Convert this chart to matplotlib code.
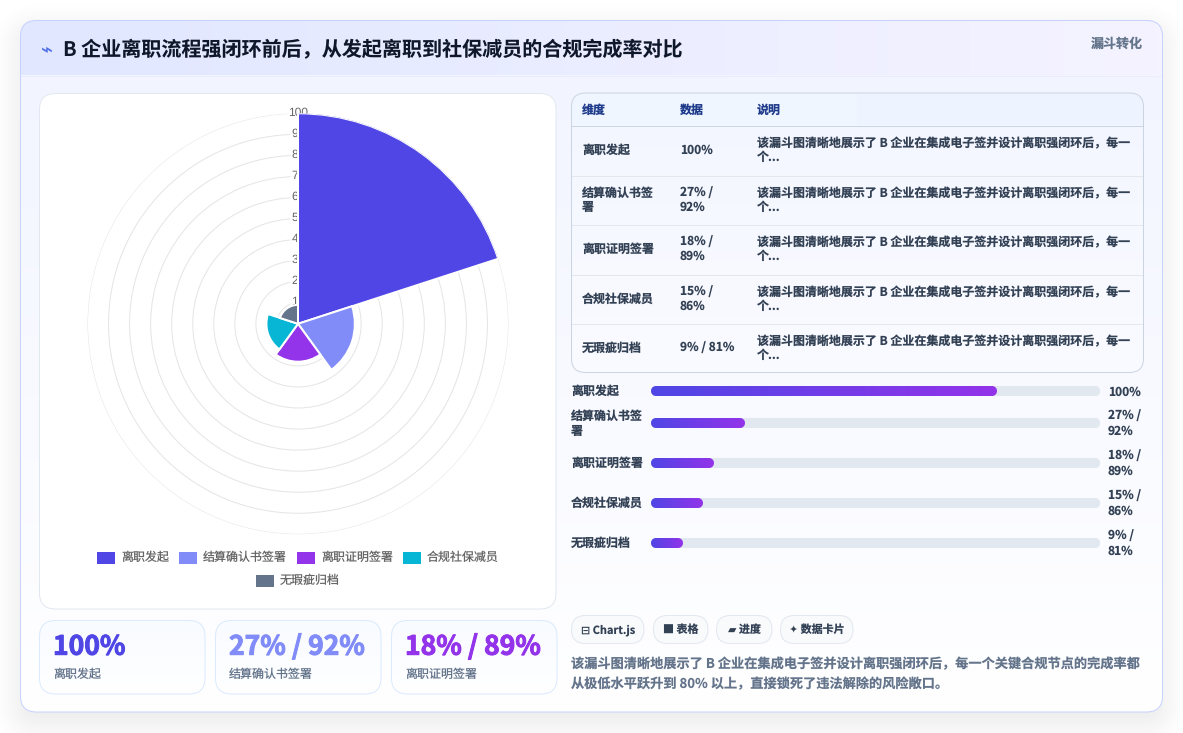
import numpy as np
import matplotlib
matplotlib.use("Agg")
import matplotlib.pyplot as plt
from matplotlib.colors import LinearSegmentedColormap, to_rgb
from matplotlib.patches import FancyBboxPatch, Rectangle
import matplotlib.patheffects as pe

plt.rcParams['font.family'] = ['Noto Sans CJK SC', 'DejaVu Sans']
plt.rcParams['text.hinting'] = 'no_hinting'
plt.rcParams['text.hinting_factor'] = 1

# Funnel data
stages = ['离职发起', '结算确认书签署', '离职证明签署', '合规社保减员', '无瑕疵归档']
before = [100, 27, 18, 15, 9]
value_labels = ['100%', '27% / 92%', '18% / 89%', '15% / 86%', '9% / 81%']
stage_colors = ['#4f46e5', '#818cf8', '#9333ea', '#06b6d4', '#64748b']
radial_ticks = [10, 20, 30, 40, 50, 60, 70, 80, 90, 100]

title = 'B 企业离职流程强闭环前后，从发起离职到社保减员的合规完成率对比'
badge = '漏斗转化'
table_headers = ['维度', '数据', '说明']
table_note = '该漏斗图清晰地展示了 B 企业在集成电子签并设计离职强闭环后，每一\n个...'
pills = ['⊟ Chart.js', '■ 表格', '▰ 进度', '✦ 数据卡片']
summary = ['该漏斗图清晰地展示了 B 企业在集成电子签并设计离职强闭环后，每一个关键合规节点的完成率都',
           '从极低水平跃升到 80% 以上，直接锁死了违法解除的风险敞口。']

W, H = 1183, 733
fig = plt.figure(figsize=(W / 100, H / 100), dpi=100, facecolor='white')
PX = 0.72  # one pixel in points


def px_axes(x0, y0, x1, y1, **kw):
    return fig.add_axes([x0 / W, 1 - y1 / H, (x1 - x0) / W, (y1 - y0) / H], **kw)


bg = px_axes(0, 0, W, H, zorder=0)
bg.set_xlim(0, W)
bg.set_ylim(H, 0)
bg.axis('off')


def fs(px):
    return px * PX


def box(x0, y0, x1, y1, r, fc='none', ec='none', lw=PX, z=2):
    p = FancyBboxPatch((x0, y0), x1 - x0, y1 - y0, boxstyle=f'round,pad=0,rounding_size={r}',
                       fc=fc, ec=ec, lw=lw, zorder=z)
    bg.add_patch(p)
    return p


def gradient(axis, extent, c0, c1, clip, horizontal=False, z=2):
    ramp = np.linspace(0, 1, 256)
    arr = ramp[None, :] if horizontal else ramp[:, None]
    cmap = LinearSegmentedColormap.from_list('g', [c0, c1])
    im = axis.imshow(arr, extent=extent, cmap=cmap, aspect='auto', zorder=z,
                     interpolation='bilinear', vmin=0, vmax=1)
    im.set_clip_path(clip)
    return im


def label(x, y, s, size, color, weight='normal', ha='left', z=6):
    return bg.text(x, y, s, fontsize=fs(size), color=color, fontweight=weight, ha=ha, va='center', zorder=z)


# Soft drop shadow behind the main panel
yy, xx = np.mgrid[0:H, 0:W]
cx, cy, hw, hh, rad = 591, 376, 571, 346, 16
qx = np.abs(xx + .5 - cx) - (hw - rad)
qy = np.abs(yy + .5 - cy) - (hh - rad)
sdf = np.hypot(np.maximum(qx, 0), np.maximum(qy, 0)) + np.minimum(np.maximum(qx, qy), 0) - rad
fade = np.clip(1 - (sdf + 26) / 58, 0, 1)
fade = fade * fade * (3 - 2 * fade)
shadow = np.zeros((H, W, 4))
shadow[..., :3] = to_rgb('#4a4a4a')
shadow[..., 3] = 0.115 * fade
bg.imshow(shadow, extent=(0, W, H, 0), aspect='auto', zorder=0.5)
bg.set_xlim(0, W)
bg.set_ylim(H, 0)

# Main panel and header strip
panel = box(20.5, 20.5, 1162.5, 712, 16, fc='#ffffff', z=1)
gradient(bg, (20, 1163, 712, 20), '#f1f4ff', '#ffffff', panel, z=1.2)
clip_header = FancyBboxPatch((20.5, 20.5), 1142, 100, boxstyle='round,pad=0,rounding_size=16',
                             fc='none', ec='none')
bg.add_patch(clip_header)
gradient(bg, (20, 1163, 75.5, 20), '#e0e7ff', '#f5f3ff', clip_header, horizontal=True, z=1.4)
bg.plot([20.5, 1162.5], [75.5, 75.5], color='#e8ecfb', lw=PX, zorder=1.5)
box(20.5, 20.5, 1162.5, 712, 16, ec='#c7d2fe', z=1.6)

label(41, 50, '⌁', 20, '#4f6fe5', 'bold')
label(63, 50, title, 20.06, '#0f172a', 'bold')
label(1142.5, 44, badge, 13, '#64748b', 'bold', ha='right')

# Chart card
box(39.5, 93.5, 556, 609, 16, fc='#ffffff', ec='#e2e8f0')

# Polar area chart
RC_X, RC_Y, RC_R = 298, 323.8, 210.5
polar = px_axes(RC_X - RC_R, RC_Y - RC_R, RC_X + RC_R, RC_Y + RC_R, projection='polar', zorder=2)
polar.patch.set_alpha(0)
polar.set_theta_zero_location('N')
polar.set_theta_direction(-1)
polar.set_ylim(0, 100)
polar.set_axisbelow(True)
polar.set_xticks([])
polar.set_yticks(radial_ticks)
polar.set_yticklabels([])
polar.grid(True, axis='y', color='#e5e5e5', lw=PX)
polar.spines['polar'].set_visible(False)
for r in radial_ticks:
    polar.text(0, r + 0.4, str(r), fontsize=fs(12), color='#666666', ha='center', va='center',
               zorder=0.7, clip_on=False, family='Liberation Sans',
               bbox=dict(fc='white', ec='none', alpha=0.75, pad=1))
sector = 2 * np.pi / len(stages)
polar.bar([i * sector for i in range(len(stages))], before, width=sector, align='edge',
          color=stage_colors, edgecolor='white', linewidth=2 * PX, zorder=1)

# Legend rows, laid out centred under the chart
legend_pos = [(97, 558), (179, 558), (297, 558), (403, 558), (256, 581)]
for name, c, (lx, ly) in zip(stages, stage_colors, legend_pos):
    bg.add_patch(Rectangle((lx, ly - 6), 18, 12, fc=c, ec='none', zorder=3))
    label(lx + 24, ly - 0.5, name, 12, '#666666')

# KPI cards
kpi_x = [(39.5, 205), (215.5, 381), (391.5, 557)]
for (x0, x1), name, val, c in zip(kpi_x, stages, value_labels, stage_colors):
    card = box(x0, 620.5, x1, 694, 16, fc='#ffffff', z=2)
    gradient(bg, (x0, x1, 694, 620), '#f8fbff', '#ffffff', card, z=2.1)
    box(x0, 620.5, x1, 694, 16, ec='#dbeafe', z=2.2)
    t = label(x0 + 13.5, 647, val, 26.5, c, 'bold')
    t.set_path_effects([pe.withStroke(linewidth=0.7, foreground=c)])
    label(x0 + 13.5, 674, name, 12, '#64748b')

# Table
tx0, tx1, ty0, ty1 = 571.5, 1143.5, 93, 372.5
table = box(tx0, ty0, tx1, ty1, 14, fc='#ffffff', z=2)
gradient(bg, (tx0, tx1, ty1, ty0), '#f3f6ff', '#fafbff', table, z=2.1)
im = bg.imshow(np.array([[0.0, 1.0]]), extent=(tx0, tx1, 125, ty0), aspect='auto', zorder=2.2,
               cmap=LinearSegmentedColormap.from_list('h', ['#eff6ff', '#eef4ff']))
im.set_clip_path(table)
bg.set_xlim(0, W)
bg.set_ylim(H, 0)
row_edges = [125, 175, 224, 274, 323]
col_x = [582, 680, 757]
for hx, h in zip(col_x, table_headers):
    label(hx, 110, h, 12, '#1e3a8a', 'bold')
for i, ye in enumerate(row_edges):
    bg.plot([tx0, tx1], [ye + .5, ye + .5], color='#cbd5e1' if i == 0 else '#e2e8f0', lw=PX, zorder=2.3)
name_wrap = ['离职发起', '结算确认书签\n署', '离职证明签署', '合规社保减员', '无瑕疵归档']
value_wrap = ['100%', '27% /\n92%', '18% /\n89%', '15% /\n86%', '9% / 81%']
for i, ye in enumerate(row_edges):
    yc = ye + 25.5
    for tx, s in zip(col_x, (name_wrap[i], value_wrap[i], table_note)):
        bg.text(tx, yc, s, fontsize=fs(12), color='#334155', fontweight='bold', ha='left', va='center',
                linespacing=1.2, zorder=6)
box(tx0, ty0, tx1, ty1, 14, ec='#cbd5e1', z=2.4)

# Progress bars: the track spans 130 units, fills are drawn from the funnel values
bar_y = [391, 423, 463, 503, 543]
bars = px_axes(651, 380, 1100, 556, zorder=2)
bars.set_xlim(0, 130)
bars.set_ylim(556, 380)
bars.axis('off')
aspect = 449 / 130
rounding = 5 / aspect
grad_c0, grad_c1 = np.array(to_rgb('#4f46e5')), np.array(to_rgb('#9333ea'))
for yc, v in zip(bar_y, before):
    bars.add_patch(FancyBboxPatch((0, yc - 5), 130, 10, boxstyle=f'round,pad=0,rounding_size={rounding}',
                                  mutation_aspect=aspect, fc='#e2e8f0', ec='none', zorder=1))
    # Gradient fill with an antialiased capsule mask, one sample per pixel
    nx = int(round(v * aspect))
    gx = (np.arange(nx) + .5)
    gy = (np.arange(10) + .5)
    dx = np.maximum(np.maximum(5 - gx, gx - (nx - 5)), 0)[None, :]
    dy = np.abs(gy - 5)[:, None]
    dist = np.hypot(dx, dy) - 5
    rgba = np.zeros((10, nx, 4))
    rgba[..., :3] = grad_c0 + (grad_c1 - grad_c0) * (gx / nx)[None, :, None]
    rgba[..., 3] = np.clip(0.5 - dist, 0, 1)
    bars.imshow(rgba, extent=(0, v, yc + 5, yc - 5), aspect='auto', zorder=2, interpolation='nearest')
bars.set_xlim(0, 130)
bars.set_ylim(556, 380)

for yc, n, v in zip(bar_y, name_wrap, value_wrap):
    vtxt = v.replace(' / ', ' /\n')
    bg.text(571, yc + 0.5, n, fontsize=fs(12), color='#334155', fontweight='bold',
            va='center', linespacing=1.25, zorder=6)
    bg.text(1108, yc + (1 if '\n' not in vtxt else 0.5), vtxt, fontsize=fs(12), color='#334155', fontweight='bold',
            va='center', linespacing=1.25, zorder=6)

# Tag pills
pill_x = [(571.5, 644), (653.5, 708), (716.5, 772), (780.5, 853)]
for (x0, x1), s in zip(pill_x, pills):
    box(x0, 615.5, x1, 643.5, 14, fc='#f8fafc', ec='#e2e8f0')
    label((x0 + x1) / 2, 630, s, 11, '#334155', 'bold', ha='center')

# Summary text
for y, line in zip((664, 684), summary):
    label(571, y, line, 13.2, '#64748b', 'bold')

fig.savefig('out.png', dpi=100, facecolor='white')
